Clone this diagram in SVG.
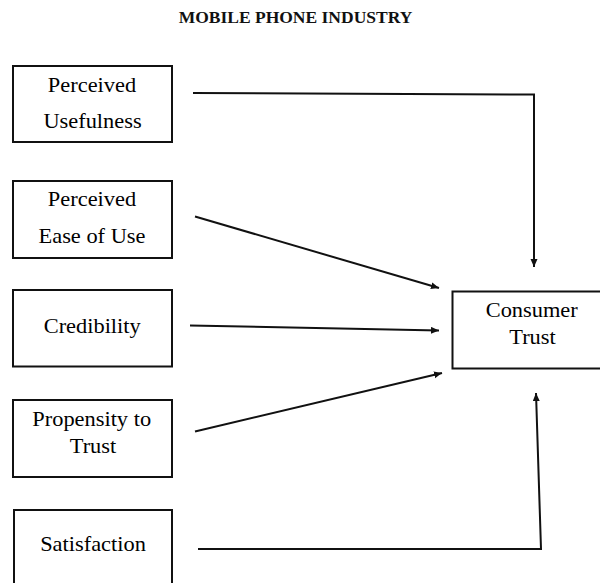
<svg xmlns="http://www.w3.org/2000/svg" width="600" height="583" viewBox="0 0 600 583">
  <style>
    .box { fill: #ffffff; stroke: #111111; stroke-width: 2; }
    .lbl { font-family: "Liberation Serif", "Times New Roman", serif; font-size: 20px; fill: #000000; text-anchor: middle; }
    .title { font-family: "Liberation Serif", "Times New Roman", serif; font-size: 17.5px; font-weight: bold; fill: #111111; text-anchor: middle; }
    .conn { fill: none; stroke: #111111; stroke-width: 2; marker-end: url(#head); }
  </style>
  <defs>
    <marker id="head" markerUnits="userSpaceOnUse" markerWidth="9" markerHeight="8" refX="8" refY="3.5" orient="auto">
      <path d="M0,0 L8,3.5 L0,7 Z" fill="#111111"/>
    </marker>
  </defs>
  <rect width="600" height="583" fill="#ffffff"/>

  <text class="title" x="295.5" y="23">MOBILE PHONE INDUSTRY</text>

  <!-- labels are set in a slightly widened serif: scale(1.12 1) about each anchor -->
  <g id="perceived-usefulness">
    <rect class="box" x="13" y="66" width="159" height="76"/>
    <text class="lbl" transform="translate(92 92) scale(1.12 1)">Perceived</text>
    <text class="lbl" transform="translate(92.5 128) scale(1.12 1)">Usefulness</text>
  </g>

  <g id="perceived-ease-of-use">
    <rect class="box" x="13" y="181" width="159" height="77"/>
    <text class="lbl" transform="translate(92 206) scale(1.12 1)">Perceived</text>
    <text class="lbl" transform="translate(92 243) scale(1.12 1)">Ease of Use</text>
  </g>

  <g id="credibility">
    <rect class="box" x="13" y="290" width="159" height="76.5"/>
    <text class="lbl" transform="translate(92.2 333) scale(1.12 1)">Credibility</text>
  </g>

  <g id="propensity-to-trust">
    <rect class="box" x="13" y="400" width="159" height="77"/>
    <text class="lbl" transform="translate(91.7 426) scale(1.12 1)">Propensity to</text>
    <text class="lbl" transform="translate(93 453) scale(1.12 1)">Trust</text>
  </g>

  <g id="satisfaction">
    <rect class="box" x="14" y="510" width="158" height="82"/>
    <text class="lbl" transform="translate(93 551) scale(1.12 1)">Satisfaction</text>
  </g>

  <g id="consumer-trust">
    <rect class="box" x="452.5" y="291.5" width="160" height="77"/>
    <text class="lbl" transform="translate(531.7 317) scale(1.12 1)">Consumer</text>
    <text class="lbl" transform="translate(532.5 344) scale(1.12 1)">Trust</text>
  </g>

  <g id="connectors">
    <polyline class="conn" points="193,93 534,94.5 534,267"/>
    <line class="conn" x1="195" y1="216.5" x2="439" y2="288"/>
    <line class="conn" x1="190" y1="325.5" x2="439" y2="330.5"/>
    <line class="conn" x1="195" y1="431.5" x2="442" y2="373"/>
    <polyline class="conn" points="198,549 541,549 536,393"/>
  </g>
</svg>
